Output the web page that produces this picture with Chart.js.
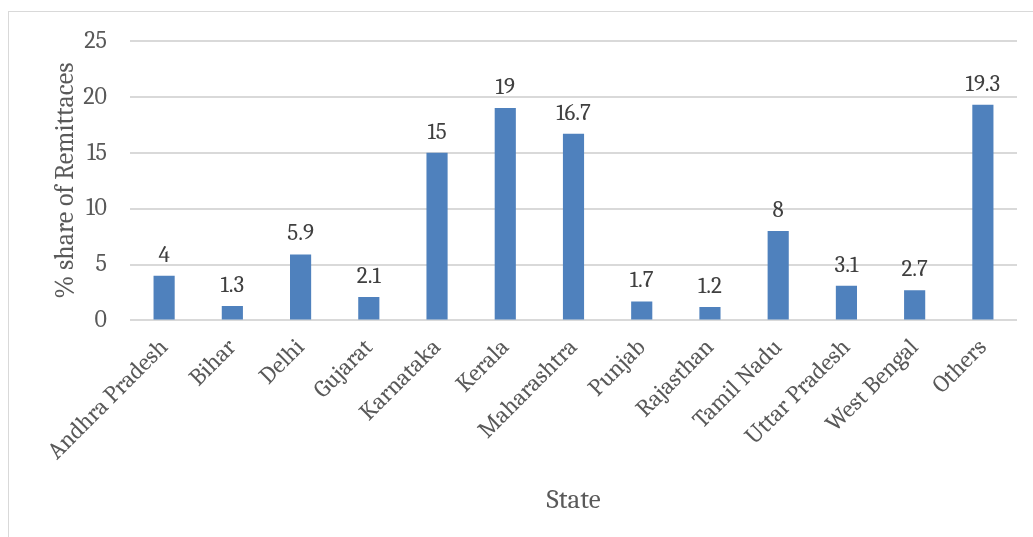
<!DOCTYPE html>
<html>
<head>
<meta charset="utf-8">
<script src="https://cdn.jsdelivr.net/npm/chart.js@4"></script>
<style>
  html, body { margin: 0; padding: 0; background: #fff; }
  #frame {
    position: absolute; left: 8px; top: 11px;
    width: 1030px; height: 540px;
    border: 1px solid #d9d9d9; box-sizing: border-box;
  }
  #wrap { position: absolute; left: 0; top: 0; width: 1033px; height: 537px; }
</style>
</head>
<body>
<div id="frame"></div>
<div id="wrap"><canvas id="chart" width="1033" height="537"></canvas></div>
<script>
let states = ['Andhra Pradesh', 'Bihar', 'Delhi', 'Gujarat', 'Karnataka', 'Kerala', 'Maharashtra',
    'Punjab', 'Rajasthan', 'Tamil Nadu', 'Uttar Pradesh', 'West Bengal', 'Others']
let shares = [4, 1.3, 5.9, 2.1, 15, 19, 16.7, 1.7, 1.2, 8, 3.1, 2.7, 19.3]
let yTicks = [0, 5, 10, 15, 20, 25]

const serif = 'Cambria, "DejaVu Serif", serif'

// writes the value above each bar
const valueLabels = {
    id: 'valueLabels',
    afterDatasetsDraw(chart) {
        let ctx = chart.ctx
        let meta = chart.getDatasetMeta(0)
        ctx.save()
        ctx.font = '23px ' + serif
        ctx.fillStyle = '#404040'
        ctx.textAlign = 'center'
        ctx.textBaseline = 'bottom'
        meta.data.forEach((bar, i) => {
            ctx.fillText(String(shares[i]), bar.x, bar.y - 9)
        })
        ctx.restore()
    }
}

let ctx = document.getElementById('chart').getContext('2d')
let chart = new Chart(ctx, {
    type: 'bar',
    data: {
        labels: states,
        datasets: [{
            data: shares,
            backgroundColor: '#4f81bd',
            barPercentage: 0.31,
            categoryPercentage: 1
        }]
    },
    plugins: [valueLabels],
    options: {
        responsive: false,
        animation: false,
        plugins: {
            legend: { display: false },
            tooltip: { enabled: false }
        },
        layout: {
            padding: { left: 46, right: 16, top: 41, bottom: 16 }
        },
        scales: {
            x: {
                // the slanted first label may hang into the y axis area
                afterFit: axis => { axis.paddingLeft = 0; axis.paddingRight = 0 },
                grid: { display: false },
                border: { display: false },
                ticks: {
                    color: '#595959',
                    font: { family: serif, size: 24 },
                    maxRotation: 45,
                    minRotation: 45,
                    padding: 5
                },
                title: {
                    display: true,
                    text: 'State',
                    color: '#595959',
                    font: { family: serif, size: 27 },
                    padding: { top: 14 }
                }
            },
            y: {
                min: 0,
                max: 25,
                afterBuildTicks: axis => { axis.ticks = yTicks.map(v => ({ value: v })) },
                afterFit: axis => { axis.width = 84 },
                grid: { color: '#d9d9d9', lineWidth: 2, drawTicks: false },
                border: { display: false },
                ticks: {
                    color: '#595959',
                    font: { family: serif, size: 24 },
                    padding: 23
                },
                title: {
                    display: true,
                    text: '% share of Remittaces',
                    color: '#595959',
                    font: { family: serif, size: 26 },
                    padding: { bottom: 5 }
                }
            }
        }
    }
})
</script>
</body>
</html>
